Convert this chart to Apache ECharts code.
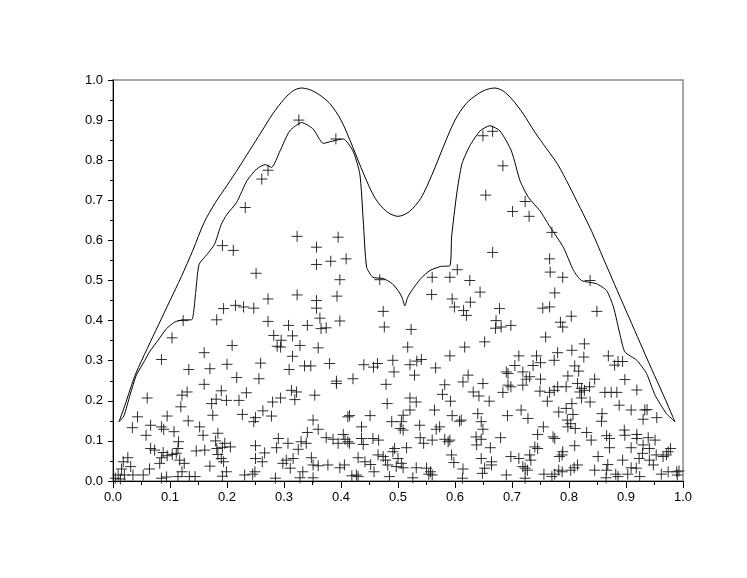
<!DOCTYPE html>
<html>
<head>
<meta charset="utf-8">
<script src="https://cdn.jsdelivr.net/npm/echarts@6/dist/echarts.min.js"></script>
<style>
  html, body { margin: 0; padding: 0; background: #fff; }
  #chart { width: 747px; height: 578px; }
</style>
</head>
<body>
<div id="chart"></div>
<script>
// outer envelope
const upperCurve = [
  [0.0105, 0.148], [0.02, 0.185], [0.03, 0.228], [0.04, 0.268], [0.06, 0.33], [0.08, 0.39],
  [0.10, 0.45], [0.12, 0.51], [0.14, 0.575], [0.16, 0.645], [0.18, 0.695], [0.20, 0.737],
  [0.22, 0.78], [0.24, 0.825], [0.26, 0.87], [0.28, 0.915], [0.30, 0.952], [0.315, 0.972],
  [0.33, 0.98], [0.345, 0.976], [0.36, 0.965], [0.38, 0.942], [0.40, 0.9], [0.42, 0.835],
  [0.44, 0.765], [0.46, 0.705], [0.48, 0.672], [0.50, 0.66], [0.52, 0.672], [0.54, 0.705],
  [0.56, 0.765], [0.58, 0.835], [0.60, 0.9], [0.62, 0.942], [0.64, 0.965], [0.655, 0.976],
  [0.67, 0.98], [0.685, 0.972], [0.70, 0.952], [0.72, 0.915], [0.74, 0.87], [0.76, 0.83],
  [0.78, 0.79], [0.80, 0.737], [0.82, 0.68], [0.84, 0.622], [0.86, 0.556], [0.88, 0.49],
  [0.90, 0.425], [0.92, 0.36], [0.94, 0.295], [0.96, 0.232], [0.97, 0.2], [0.98, 0.167], [0.986, 0.148]
];

// inner (empirical) curve
const lowerCurve = [
  [0.0105, 0.148], [0.019, 0.162], [0.03, 0.215], [0.041, 0.264], [0.056, 0.301], [0.064, 0.322],
  [0.079, 0.351], [0.094, 0.380], [0.108, 0.396], [0.123, 0.402], [0.138, 0.402], [0.145, 0.47],
  [0.151, 0.54], [0.165, 0.565], [0.178, 0.59], [0.19, 0.64], [0.20, 0.665], [0.217, 0.695],
  [0.235, 0.749], [0.252, 0.778], [0.267, 0.789], [0.278, 0.782], [0.293, 0.823], [0.310, 0.873],
  [0.331, 0.894], [0.351, 0.878], [0.369, 0.842], [0.386, 0.848], [0.404, 0.853], [0.421, 0.823],
  [0.433, 0.766], [0.439, 0.65], [0.445, 0.533], [0.456, 0.508], [0.474, 0.505], [0.490, 0.492],
  [0.500, 0.475], [0.507, 0.458], [0.512, 0.437], [0.517, 0.458], [0.524, 0.475], [0.540, 0.505],
  [0.556, 0.525], [0.575, 0.535], [0.591, 0.537], [0.594, 0.608], [0.603, 0.716], [0.612, 0.79],
  [0.626, 0.836], [0.644, 0.873], [0.661, 0.886], [0.679, 0.873], [0.699, 0.823], [0.714, 0.749],
  [0.729, 0.707], [0.749, 0.674], [0.767, 0.633], [0.790, 0.583], [0.808, 0.525], [0.822, 0.500],
  [0.848, 0.492], [0.866, 0.475], [0.878, 0.434], [0.889, 0.368], [0.898, 0.322], [0.919, 0.301],
  [0.936, 0.268], [0.951, 0.214], [0.971, 0.168], [0.986, 0.148]
];

// sample points (x, y)
const samples = [
  // 0.0 - 0.16
  [0.123, 0.40], [0.1035, 0.357], [0.085, 0.303], [0.133, 0.278], [0.06, 0.207], [0.121, 0.214],
  [0.130, 0.222], [0.119, 0.185], [0.095, 0.162], [0.043, 0.160], [0.034, 0.133], [0.066, 0.139],
  [0.085, 0.135], [0.089, 0.129], [0.132, 0.150], [0.058, 0.114], [0.107, 0.123], [0.152, 0.135],
  [0.158, 0.114], [0.115, 0.098], [0.066, 0.081], [0.073, 0.077], [0.088, 0.071], [0.095, 0.063],
  [0.085, 0.058], [0.104, 0.066], [0.114, 0.081], [0.111, 0.069], [0.146, 0.075], [0.161, 0.077],
  [0.026, 0.058], [0.018, 0.048], [0.031, 0.036], [0.015, 0.030], [0.082, 0.044], [0.064, 0.030],
  [0.117, 0.052], [0.125, 0.044], [0.121, 0.023], [0.009, 0.015], [0.020, 0.015], [0.035, 0.015],
  [0.053, 0.015], [0.004, 0.007], [0.013, 0.005], [0.085, 0.007], [0.094, 0.010], [0.114, 0.011],
  [0.134, 0.011], [0.144, 0.011], [0.160, 0.320], [0.160, 0.241],
  // 0.16 - 0.33
  [0.251, 0.518], [0.272, 0.454], [0.323, 0.464], [0.194, 0.430], [0.215, 0.438], [0.229, 0.434],
  [0.247, 0.431], [0.182, 0.402], [0.272, 0.398], [0.308, 0.388], [0.282, 0.363], [0.315, 0.362],
  [0.295, 0.351], [0.288, 0.336], [0.294, 0.334], [0.328, 0.338], [0.209, 0.338], [0.315, 0.311],
  [0.309, 0.278], [0.259, 0.294], [0.170, 0.280], [0.200, 0.291], [0.217, 0.258], [0.256, 0.255],
  [0.190, 0.225], [0.234, 0.220], [0.313, 0.226], [0.322, 0.222], [0.319, 0.203], [0.181, 0.204],
  [0.173, 0.193], [0.199, 0.201], [0.221, 0.201], [0.294, 0.207], [0.280, 0.197], [0.175, 0.164],
  [0.227, 0.166], [0.263, 0.175], [0.278, 0.162], [0.250, 0.158], [0.247, 0.148], [0.184, 0.119],
  [0.180, 0.100], [0.196, 0.094], [0.206, 0.085], [0.192, 0.084], [0.182, 0.081], [0.184, 0.066],
  [0.190, 0.056], [0.194, 0.048], [0.250, 0.088], [0.290, 0.106], [0.287, 0.083], [0.307, 0.094],
  [0.325, 0.079], [0.330, 0.098], [0.266, 0.070], [0.262, 0.048], [0.250, 0.056], [0.298, 0.044],
  [0.304, 0.052], [0.316, 0.056], [0.311, 0.032], [0.170, 0.037], [0.199, 0.023], [0.192, 0.012],
  [0.231, 0.015], [0.245, 0.017], [0.249, 0.023], [0.285, 0.007], [0.328, 0.008],
  // 0.33 - 0.50
  [0.398, 0.502], [0.468, 0.502], [0.393, 0.461], [0.357, 0.450], [0.357, 0.431], [0.474, 0.423],
  [0.363, 0.406], [0.398, 0.399], [0.341, 0.388], [0.365, 0.380], [0.374, 0.382], [0.476, 0.384],
  [0.360, 0.332], [0.336, 0.287], [0.347, 0.287], [0.380, 0.293], [0.440, 0.290], [0.457, 0.284],
  [0.464, 0.293], [0.491, 0.301], [0.493, 0.272], [0.392, 0.243], [0.392, 0.249], [0.421, 0.255],
  [0.479, 0.241], [0.354, 0.214], [0.481, 0.193], [0.415, 0.163], [0.412, 0.160], [0.451, 0.163],
  [0.489, 0.148], [0.351, 0.152], [0.360, 0.129], [0.436, 0.135], [0.341, 0.121], [0.339, 0.094],
  [0.374, 0.108], [0.386, 0.104], [0.404, 0.116], [0.407, 0.104], [0.395, 0.094], [0.415, 0.094],
  [0.412, 0.098], [0.436, 0.106], [0.439, 0.091], [0.456, 0.106], [0.466, 0.102], [0.494, 0.081],
  [0.491, 0.073], [0.348, 0.058], [0.360, 0.038], [0.351, 0.040], [0.377, 0.040], [0.406, 0.040],
  [0.398, 0.033], [0.430, 0.058], [0.442, 0.048], [0.452, 0.041], [0.465, 0.065], [0.474, 0.061],
  [0.478, 0.052], [0.482, 0.040], [0.458, 0.023], [0.333, 0.023], [0.351, 0.008], [0.419, 0.013],
  [0.427, 0.015], [0.430, 0.011], [0.485, 0.011], [0.497, 0.036],
  // 0.50 - 0.66
  [0.560, 0.508], [0.591, 0.508], [0.626, 0.500], [0.604, 0.527], [0.559, 0.465], [0.595, 0.454],
  [0.599, 0.434], [0.644, 0.471], [0.627, 0.446], [0.615, 0.425], [0.620, 0.413], [0.523, 0.378],
  [0.652, 0.347], [0.517, 0.334], [0.617, 0.334], [0.591, 0.312], [0.521, 0.290], [0.533, 0.299],
  [0.541, 0.303], [0.529, 0.264], [0.566, 0.282], [0.623, 0.264], [0.614, 0.247], [0.582, 0.240],
  [0.649, 0.243], [0.578, 0.216], [0.592, 0.199], [0.632, 0.222], [0.642, 0.212], [0.521, 0.207],
  [0.532, 0.197], [0.660, 0.199], [0.564, 0.177], [0.521, 0.177], [0.509, 0.164], [0.506, 0.148],
  [0.595, 0.163], [0.608, 0.149], [0.611, 0.152], [0.640, 0.168], [0.646, 0.148], [0.538, 0.139],
  [0.504, 0.131], [0.509, 0.127], [0.573, 0.135], [0.567, 0.129], [0.649, 0.129], [0.539, 0.108],
  [0.545, 0.094], [0.560, 0.102], [0.582, 0.104], [0.588, 0.098], [0.591, 0.102], [0.637, 0.110],
  [0.646, 0.104], [0.638, 0.090], [0.515, 0.083], [0.662, 0.083], [0.594, 0.065], [0.598, 0.046],
  [0.500, 0.056], [0.506, 0.044], [0.509, 0.033], [0.532, 0.033], [0.550, 0.032], [0.557, 0.023],
  [0.554, 0.017], [0.560, 0.015], [0.614, 0.030], [0.646, 0.056], [0.652, 0.032], [0.648, 0.019],
  [0.526, 0.008], [0.613, 0.007],
  // 0.66 - 0.83
  [0.649, 0.861], [0.666, 0.872], [0.684, 0.786], [0.654, 0.713], [0.723, 0.697], [0.701, 0.672],
  [0.730, 0.660], [0.770, 0.620], [0.666, 0.570], [0.766, 0.554], [0.767, 0.521], [0.789, 0.508],
  [0.775, 0.469], [0.678, 0.430], [0.754, 0.431], [0.766, 0.434], [0.804, 0.411], [0.672, 0.400],
  [0.671, 0.381], [0.681, 0.384], [0.698, 0.388], [0.785, 0.396], [0.789, 0.384], [0.759, 0.359],
  [0.827, 0.342], [0.780, 0.320], [0.805, 0.326], [0.712, 0.312], [0.743, 0.312], [0.750, 0.295],
  [0.774, 0.301], [0.826, 0.309], [0.705, 0.288], [0.737, 0.288], [0.690, 0.272], [0.693, 0.268],
  [0.719, 0.272], [0.810, 0.287], [0.817, 0.274], [0.731, 0.260], [0.725, 0.254], [0.750, 0.254],
  [0.798, 0.262], [0.719, 0.239], [0.693, 0.239], [0.698, 0.235], [0.780, 0.235], [0.795, 0.235],
  [0.815, 0.243], [0.822, 0.231], [0.819, 0.222], [0.827, 0.226], [0.749, 0.224], [0.766, 0.221],
  [0.774, 0.226], [0.684, 0.221], [0.762, 0.199], [0.822, 0.207], [0.805, 0.193], [0.795, 0.181],
  [0.716, 0.177], [0.728, 0.156], [0.782, 0.172], [0.692, 0.163], [0.807, 0.166], [0.797, 0.152],
  [0.803, 0.143], [0.755, 0.135], [0.798, 0.135], [0.811, 0.131], [0.745, 0.116], [0.831, 0.121],
  [0.772, 0.110], [0.775, 0.106], [0.680, 0.108], [0.740, 0.085], [0.745, 0.081], [0.810, 0.088],
  [0.789, 0.073], [0.783, 0.061], [0.788, 0.065], [0.731, 0.065], [0.733, 0.052], [0.698, 0.061],
  [0.712, 0.056], [0.664, 0.048], [0.664, 0.040], [0.719, 0.036], [0.723, 0.032], [0.727, 0.027],
  [0.815, 0.040], [0.809, 0.033], [0.803, 0.027], [0.782, 0.027], [0.788, 0.023], [0.690, 0.015],
  [0.756, 0.017], [0.770, 0.011], [0.775, 0.017], [0.723, 0.007],
  // 0.83 - 1.0
  [0.837, 0.500], [0.849, 0.423], [0.869, 0.312], [0.880, 0.289], [0.886, 0.298], [0.894, 0.298],
  [0.845, 0.254], [0.898, 0.253], [0.836, 0.235], [0.919, 0.227], [0.863, 0.221], [0.874, 0.221],
  [0.884, 0.221], [0.837, 0.197], [0.888, 0.189], [0.909, 0.177], [0.933, 0.177], [0.937, 0.178],
  [0.954, 0.158], [0.930, 0.154], [0.858, 0.168], [0.857, 0.149], [0.866, 0.113], [0.871, 0.106],
  [0.897, 0.127], [0.898, 0.114], [0.919, 0.116], [0.919, 0.106], [0.939, 0.108], [0.951, 0.102],
  [0.839, 0.102], [0.871, 0.083], [0.909, 0.083], [0.930, 0.090], [0.941, 0.081], [0.978, 0.081],
  [0.974, 0.073], [0.929, 0.069], [0.923, 0.056], [0.953, 0.065], [0.965, 0.061], [0.971, 0.065],
  [0.851, 0.061], [0.894, 0.052], [0.941, 0.052], [0.948, 0.040], [0.868, 0.041], [0.845, 0.027],
  [0.866, 0.027], [0.909, 0.033], [0.918, 0.032], [0.903, 0.017], [0.924, 0.011], [0.886, 0.011],
  [0.882, 0.017], [0.962, 0.017], [0.974, 0.023], [0.989, 0.023], [0.993, 0.025], [0.990, 0.015],
  [0.865, 0.008],
  // upper sparse points
  [0.326, 0.900], [0.391, 0.853], [0.272, 0.775], [0.261, 0.753], [0.232, 0.682], [0.192, 0.587],
  [0.211, 0.575], [0.323, 0.610], [0.357, 0.583], [0.395, 0.608], [0.409, 0.554], [0.357, 0.540],
  [0.382, 0.548]
];

const chart = echarts.init(document.getElementById("chart"), null, { renderer: "canvas" });
const axisFont = { color: "#000", fontFamily: "Liberation Sans", fontSize: 13 };

chart.setOption({
  animation: false,
  backgroundColor: "#fff",
  grid: { left: 113, right: 64, top: 80, bottom: 97, show: true, borderColor: "#8a8a8a", borderWidth: 1.5 },
  xAxis: {
    type: "value", min: 0, max: 1, interval: 0.1,
    axisLine: { show: true, onZero: false, lineStyle: { color: "#000", width: 1 } },
    axisTick: { show: true, length: 7, lineStyle: { color: "#000" } },
    minorTick: { show: true, splitNumber: 2, length: 4, lineStyle: { color: "#000" } },
    splitLine: { show: false },
    axisLabel: Object.assign({ margin: 10, formatter: v => v.toFixed(1), showMaxLabel: true }, axisFont)
  },
  yAxis: {
    type: "value", min: 0, max: 1, interval: 0.1,
    axisLine: { show: true, onZero: false, lineStyle: { color: "#000", width: 1 } },
    axisTick: { show: true, length: 5, lineStyle: { color: "#000" } },
    minorTick: { show: true, splitNumber: 2, length: 3, lineStyle: { color: "#000" } },
    splitLine: { show: false },
    axisLabel: Object.assign({ margin: 10, formatter: v => v.toFixed(1) }, axisFont)
  },
  series: [
    {
      type: "line", data: upperCurve, smooth: 0.3, symbol: "none",
      lineStyle: { color: "#000", width: 1 }, z: 3
    },
    {
      type: "line", data: lowerCurve, smooth: 0.2, symbol: "none",
      lineStyle: { color: "#000", width: 1 }, z: 3
    },
    {
      type: "scatter", data: samples,
      symbol: "path://M5,0L5,10M0,5L10,5", symbolSize: 11,
      itemStyle: { color: "transparent", borderColor: "#1a1a1a", borderWidth: 1, opacity: 0.9 },
      z: 2
    }
  ]
});
</script>
</body>
</html>
